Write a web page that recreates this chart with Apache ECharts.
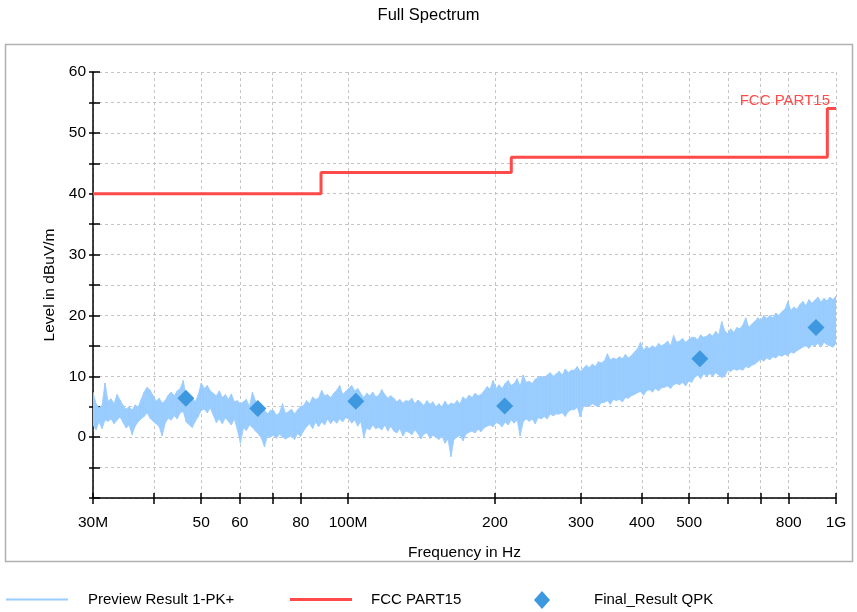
<!DOCTYPE html>
<html><head><meta charset="utf-8">
<script src="https://cdn.jsdelivr.net/npm/echarts@6/dist/echarts.min.js"></script>
<style>html,body{margin:0;padding:0;background:#fff}#c{width:857px;height:612px}</style>
</head><body><div id="c"></div>
<script>
// ---- data ----
const xTickMHz = [30,40,50,60,70,80,100,200,300,400,500,600,700,800,1000];
const xLabelMHz = [30,50,60,80,100,200,300,400,500,800,1000];
const yTickLabels = [0,10,20,30,40,50,60];

const limitFreqMHz = [30, 88, 88, 216, 216, 960, 960, 1000];
const limitLevel   = [40, 40, 43.5, 43.5, 46, 46, 54, 54];

const qpkFreqMHz = [46.5, 65.3, 103.7, 209.4, 526, 910];
const qpkLevel   = [6.4, 4.7, 5.9, 5.1, 12.9, 18.0];

// preview sweep 30 MHz .. 1 GHz: per sweep bin (equally spaced on the log axis)
// a pair (upper, lower) of the peak trace envelope in dBuV/m
const previewStartMHz = 30, previewStopMHz = 1000;
const previewLevel = [
7.4,2.0,5.5,1.2,4.8,2.5,5.2,1.4,8.9,2.8,
5.9,2.6,6.3,3.0,5.5,2.2,7.0,2.8,6.1,3.3,
5.2,2.4,4.6,1.5,5.0,2.0,4.4,0.4,5.3,1.8,
4.9,2.5,6.2,3.0,7.4,3.4,8.2,4.0,7.7,3.1,
6.8,2.6,5.9,2.2,6.4,1.7,5.6,0.2,6.0,2.3,
6.9,3.1,7.4,2.8,6.8,3.5,7.6,3.0,8.0,4.0,
9.3,4.2,6.6,2.5,6.0,2.0,6.4,1.6,5.8,2.6,
7.0,3.4,8.9,4.4,8.0,4.6,8.5,4.0,7.6,4.8,
7.2,3.6,6.8,2.4,7.6,3.0,6.5,2.2,7.0,3.2,
6.2,2.6,7.1,2.0,5.8,3.0,6.0,1.2,5.5,-1.0,
5.8,1.5,6.2,1.1,5.0,2.0,7.4,1.6,6.0,1.0,
4.8,0.5,4.2,-0.2,4.5,-1.6,3.8,0.2,4.4,0.0,
4.4,0.3,3.6,-0.2,4.0,0.5,5.5,0.0,3.9,-0.3,
4.2,0.0,4.6,0.2,3.8,-0.4,4.5,0.6,5.0,0.1,
5.2,1.0,6.0,1.7,5.5,2.2,6.6,1.4,6.2,2.5,
6.4,1.7,7.7,2.5,6.8,2.0,7.0,3.0,6.5,2.2,
7.2,2.8,7.7,2.3,8.5,3.0,7.0,2.5,7.5,3.2,
8.0,3.0,8.5,2.3,7.6,2.8,8.0,1.8,7.2,2.6,
6.5,0.0,7.2,1.5,6.8,1.2,7.4,2.0,6.6,1.4,
6.9,1.6,7.8,1.2,7.0,2.0,6.4,1.0,6.8,1.8,
6.4,1.0,5.8,0.7,6.2,1.4,5.6,0.2,6.0,1.0,
5.9,0.8,6.4,0.4,5.5,1.2,6.1,0.6,5.7,-0.3,
5.2,0.5,6.0,0.7,5.4,-0.2,5.8,0.3,5.0,0.0,
5.5,-0.4,5.0,0.2,5.9,-1.0,5.2,-0.3,5.6,-3.2,
5.4,-0.4,6.0,0.0,5.5,0.3,6.6,-0.6,6.2,0.5,
6.9,0.8,6.5,1.0,7.2,0.7,6.8,1.3,7.0,0.9,
7.6,1.5,8.3,1.8,7.9,2.0,9.3,1.7,8.0,2.4,
8.6,2.2,8.0,1.7,8.8,2.5,9.3,2.0,8.5,2.8,
8.8,2.3,9.6,2.8,8.4,0.2,10.2,2.5,9.0,3.0,
9.2,2.6,8.8,3.0,9.5,2.2,9.8,3.2,10.0,3.0,
9.8,3.4,10.2,3.0,10.6,3.8,10.0,3.5,10.4,3.8,
10.8,3.8,10.2,4.0,11.2,3.4,10.6,4.2,11.0,4.5,
11.0,4.5,11.6,4.9,10.8,3.3,11.3,5.0,11.8,5.2,
11.4,5.0,12.0,5.5,11.6,5.2,12.4,5.0,12.2,5.7,
12.5,5.7,13.7,6.0,12.7,5.4,13.0,6.2,12.8,6.0,
13.2,6.2,12.9,5.8,13.6,6.5,13.0,6.4,13.4,6.8,
14.0,7.0,14.5,7.3,15.6,7.5,14.3,6.9,14.8,7.6,
14.6,7.8,15.0,7.4,14.7,8.0,15.4,7.6,15.0,8.1,
15.3,8.2,15.8,8.4,15.0,8.0,16.7,8.6,15.6,8.8,
15.8,8.6,16.2,9.0,15.6,8.4,16.0,9.2,16.4,9.0,
16.4,9.8,16.0,10.2,16.8,9.6,16.4,10.4,16.6,10.0,
17.0,10.4,16.6,10.0,17.4,10.6,16.8,10.2,19.0,9.8,
17.5,10.0,17.0,11.0,17.8,10.8,17.2,11.2,18.0,11.0,
17.8,11.2,18.4,11.0,19.6,11.6,18.0,11.4,18.6,11.8,
19.0,12.0,19.6,12.4,19.2,12.8,20.0,12.5,19.5,13.0,
20.0,12.7,19.6,13.2,20.4,13.0,20.0,13.5,20.6,13.3,
21.0,13.6,22.3,13.4,20.8,14.0,21.4,13.8,21.0,14.2,
21.8,14.5,22.3,14.8,21.6,15.0,22.6,14.6,22.0,15.2,
22.5,15.0,23.0,15.4,22.2,14.8,22.8,15.6,22.4,15.2,
23.0,15.0,22.6,14.8,23.2,15.4
];

// ---- build ----
const FONT = 'Liberation Sans, Arial, sans-serif';
const lg = v => Math.log10(v);
const nBins = previewLevel.length / 2;
const binX = i => lg(previewStartMHz * Math.pow(previewStopMHz / previewStartMHz, i / (nBins - 1)));
const previewData = [];
for (let i = 0; i < nBins; i++) {
  previewData.push([binX(i), previewLevel[2 * i + 1], previewLevel[2 * i]]); // [x, lower, upper]
}
const limitData = limitFreqMHz.map((f, i) => [lg(f), limitLevel[i]]);
const qpkData = qpkFreqMHz.map((f, i) => [lg(f), qpkLevel[i]]);
const xTicks = xTickMHz.map(lg);
const xLabels = xLabelMHz.map(lg);
function fmtX(v) {
  const f = Math.round(Math.pow(10, v));
  if (f === 1000) return '1G';
  if (f === 30 || f === 100) return f + 'M';
  return String(f);
}
const XMIN = lg(30), XMAX = lg(1000);
const RED = '#FF4A4A', LIGHT = '#99CCFF', DIAM = '#3E98DF';
const dashed = {show: true, lineStyle: {color: '#c4c4c4', type: [3, 3], width: 1}};

// band segment between one sweep bin and the next, through the axis scales
function renderBand(params, api) {
  const i = params.dataIndexInside;
  if (i >= params.dataInsideLength - 1) return null;
  const x0 = api.value(0, i), lo0 = api.value(1, i), hi0 = api.value(2, i);
  const x1 = api.value(0, i + 1), lo1 = api.value(1, i + 1), hi1 = api.value(2, i + 1);
  const pts = [api.coord([x0, hi0]), api.coord([x1, hi1]), api.coord([x1, lo1]), api.coord([x0, lo0])];
  return {
    type: 'polygon',
    shape: {points: pts},
    style: {fill: LIGHT, stroke: LIGHT, lineWidth: 0.8}
  };
}

const chart = echarts.init(document.getElementById('c'), null, {renderer: 'canvas'});
chart.setOption({
  animation: false,
  backgroundColor: '#fff',
  textStyle: {fontFamily: FONT},
  title: {text: 'Full Spectrum', left: 'center', top: 2,
    textStyle: {fontSize: 16.5, fontWeight: 'normal', color: '#000', fontFamily: FONT}},
  grid: {left: 93, right: 21, top: 72, bottom: 114},
  graphic: [
    {type: 'rect', left: 3, top: 42, shape: {width: 847, height: 517},
     style: {fill: null, stroke: '#b0b0b0', lineWidth: 1.5}, z: -1, silent: true},
    {type: 'text', right: 27, top: 93,
     style: {text: 'FCC PART15', fill: RED, font: '15px ' + FONT}, z: 10, silent: true}
  ],
  legend: [
    {data: [{name: 'Preview Result 1-PK+', icon: 'rect'}], left: 6, top: 592, padding: 0, itemWidth: 62, itemHeight: 2,
     textStyle: {fontSize: 15, color: '#000', fontFamily: FONT, padding: [0, 0, 0, 15]}},
    {data: [{name: 'FCC PART15', icon: 'rect'}], left: 290, top: 592, padding: 0, itemWidth: 62, itemHeight: 3,
     textStyle: {fontSize: 15, color: '#000', fontFamily: FONT, padding: [0, 0, 0, 14]}},
    {data: [{name: 'Final_Result QPK', icon: 'diamond'}], left: 534, top: 591, padding: 0, itemWidth: 16, itemHeight: 18,
     textStyle: {fontSize: 15, color: '#000', fontFamily: FONT, padding: [0, 0, 0, 39]}}
  ],
  xAxis: [
    {type: 'value', min: XMIN, max: XMAX, position: 'bottom',
     name: 'Frequency in Hz', nameLocation: 'middle', nameGap: 47,
     nameTextStyle: {fontSize: 15.5, color: '#000', fontFamily: FONT},
     axisLine: {onZero: false, lineStyle: {color: '#000', width: 1.5}},
     axisTick: {show: true, inside: false, length: 6, customValues: xTicks, lineStyle: {color: '#000', width: 1.5}},
     axisLabel: {customValues: xLabels, formatter: fmtX, margin: 17, fontSize: 15.5, color: '#000', fontFamily: FONT},
     splitLine: dashed},
    {type: 'value', min: XMIN, max: XMAX, position: 'bottom',
     axisLine: {show: false, onZero: false},
     axisTick: {show: true, inside: true, length: 5, customValues: xTicks, lineStyle: {color: '#000', width: 1.5}},
     axisLabel: {show: false}, splitLine: {show: false}}
  ],
  yAxis: [
    {type: 'value', min: -10, max: 60, interval: 5, position: 'left',
     name: 'Level in dBuV/m', nameLocation: 'middle', nameGap: 31,
     nameTextStyle: {fontSize: 15.5, color: '#000', fontFamily: FONT},
     axisLine: {show: true, onZero: false, lineStyle: {color: '#000', width: 1.5}},
     axisTick: {show: true, inside: false, length: 4, lineStyle: {color: '#000', width: 1.5}},
     axisLabel: {margin: 7, fontSize: 15.5, color: '#000', fontFamily: FONT,
       formatter: v => (yTickLabels.indexOf(v) >= 0 ? String(v) : '')},
     splitLine: dashed},
    {type: 'value', min: -10, max: 60, interval: 5, position: 'left',
     axisLine: {show: false, onZero: false},
     axisTick: {show: true, inside: true, length: 7, lineStyle: {color: '#000', width: 1.5}},
     axisLabel: {show: false}, splitLine: {show: false}}
  ],
  series: [
    {name: 'Preview Result 1-PK+', type: 'custom', data: previewData, renderItem: renderBand,
     encode: {x: 0, y: [1, 2]}, itemStyle: {color: LIGHT}, clip: true, z: 2, silent: true},
    {name: 'FCC PART15', type: 'line', data: limitData, symbol: 'none',
     lineStyle: {color: RED, width: 3}, itemStyle: {color: RED}, z: 3, silent: true},
    {name: 'Final_Result QPK', type: 'scatter', data: qpkData, symbol: 'diamond', symbolSize: 17,
     itemStyle: {color: DIAM, opacity: 1}, z: 4, silent: true}
  ]
});
</script></body></html>
